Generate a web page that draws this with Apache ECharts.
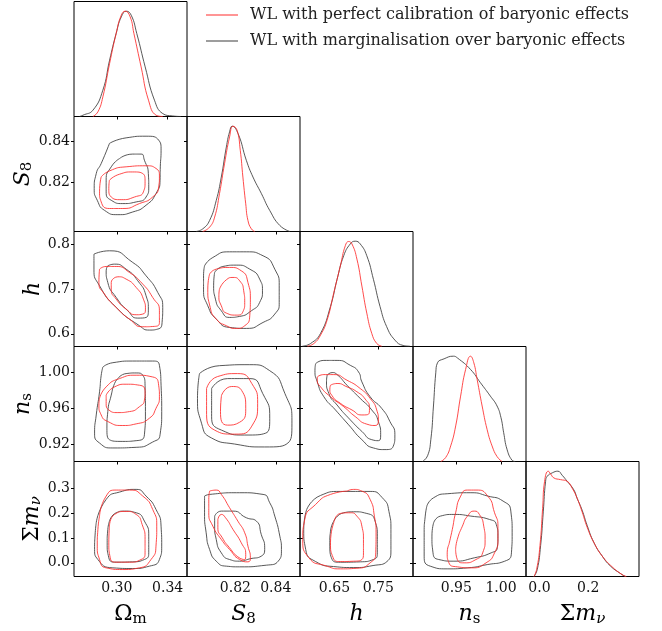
<!DOCTYPE html>
<html>
<head>
<meta charset="utf-8">
<script src="https://cdn.jsdelivr.net/npm/echarts@6/dist/echarts.min.js"></script>
<style>
  html, body { margin: 0; padding: 0; background: #fff; }
  #corner { width: 662px; height: 631px; }
</style>
</head>
<body>
<div id="corner"></div>
<script>
// parameter order: Omega_m, S8, h, n_s, sum m_nu
const paramNames = ['{up|Ω}{sub|m}', '{it|S}{sub|8}', '{it|h}', '{it|n}{sub|s}', '{up|Σ}{it|m}{subit|ν}'];
const axisMin = [0.2663, 0.796, 0.5715, 0.9015, -0.055];
const axisMax = [0.3552, 0.852, 0.829, 1.028, 0.408];
const xTicks = [[0.30, 0.34], [0.82, 0.84], [0.65, 0.75], [0.95, 1.00], [0.0, 0.2]];
const yTicks = [[], [0.82, 0.84], [0.6, 0.7, 0.8], [0.92, 0.96, 1.00], [0.0, 0.1, 0.2, 0.3]];
const xDecimals = [2, 2, 2, 2, 1];
const yDecimals = [2, 2, 1, 2, 1];

const redName = 'WL with perfect calibration of baryonic effects';
const blkName = 'WL with marginalisation over baryonic effects';

// 1D marginals (normalised to peak 1)
const omDensBlk = [[0.2707,0],[0.2733,0.012],[0.2812,0.06],[0.2890,0.25],[0.2943,0.535],[0.2995,0.79],[0.3035,0.946],[0.3074,1.0],[0.3113,0.962],[0.3157,0.788],[0.3223,0.471],[0.3296,0.155],[0.3361,0.028],[0.3439,0.005],[0.3505,0]];
const omDensRed = [[0.2812,0],[0.2851,0.044],[0.2890,0.186],[0.2943,0.503],[0.2995,0.79],[0.3035,0.962],[0.3066,1.0],[0.3105,0.946],[0.3134,0.79],[0.3191,0.471],[0.3249,0.155],[0.3309,0.012],[0.3361,0]];
const s8DensBlk = [[0.8005,0],[0.8038,0.025],[0.8072,0.105],[0.8105,0.295],[0.8130,0.517],[0.8155,0.803],[0.8171,0.946],[0.8184,1.0],[0.8213,0.930],[0.8254,0.676],[0.8287,0.517],[0.8329,0.359],[0.8370,0.2],[0.8420,0.057],[0.8470,0]];
const s8DensRed = [[0.8038,0],[0.8072,0.041],[0.8097,0.137],[0.8121,0.359],[0.8146,0.644],[0.8171,0.898],[0.8188,1.0],[0.8208,0.962],[0.8224,0.771],[0.8237,0.517],[0.8251,0.263],[0.8262,0.105],[0.8279,0.025],[0.8296,0]];
const hDensBlk = [[0.5770,0.003],[0.5958,0.029],[0.6184,0.125],[0.6410,0.381],[0.6560,0.638],[0.6711,0.862],[0.6861,0.974],[0.6974,1.0],[0.7087,0.974],[0.7237,0.862],[0.7388,0.638],[0.7538,0.381],[0.7689,0.189],[0.7877,0.061],[0.8065,0.01],[0.8216,0.003]];
const hDensRed = [[0.5883,0.003],[0.6033,0.029],[0.6184,0.109],[0.6334,0.253],[0.6485,0.510],[0.6635,0.766],[0.6748,0.958],[0.6824,0.997],[0.6899,0.974],[0.7012,0.830],[0.7125,0.574],[0.7237,0.317],[0.7350,0.125],[0.7463,0.029],[0.7576,0.003]];
const nsDensBlk = [[0.9122,0],[0.9178,0.054],[0.9215,0.211],[0.9244,0.527],[0.9270,0.842],[0.9289,0.937],[0.9363,0.975],[0.9467,1.0],[0.9511,0.984],[0.9659,0.874],[0.9770,0.748],[0.9881,0.621],[0.9956,0.527],[1.0,0.416],[1.0030,0.274],[1.0067,0.117],[1.0122,0.013],[1.0159,0]];
const nsDensRed = [[0.9326,0],[0.9381,0.038],[0.9437,0.148],[0.9493,0.338],[0.9548,0.621],[0.9604,0.874],[0.9659,1.0],[0.9696,0.937],[0.9733,0.779],[0.9789,0.527],[0.9844,0.306],[0.9900,0.148],[0.9956,0.047],[1.0011,0]];
const mnuDensBlk = [[-0.0223,0],[-0.0087,0.068],[0.0049,0.293],[0.0158,0.614],[0.0253,0.904],[0.0321,0.952],[0.0525,0.984],[0.0756,1.0],[0.0933,0.961],[0.1137,0.904],[0.1409,0.823],[0.1545,0.743],[0.1749,0.630],[0.1954,0.486],[0.2226,0.325],[0.2566,0.196],[0.2906,0.100],[0.3314,0.029],[0.3518,0]];
const mnuDensRed = [[-0.0223,0],[-0.0114,0.068],[0.0022,0.293],[0.0131,0.646],[0.0212,0.904],[0.0362,1.0],[0.0457,0.974],[0.0593,0.936],[0.0865,0.920],[0.1137,0.904],[0.1341,0.839],[0.1545,0.743],[0.1749,0.614],[0.1954,0.469],[0.2226,0.325],[0.2566,0.196],[0.2974,0.093],[0.3382,0.019],[0.3559,0]];

// 2D contours: 1 = inner (68%), 2 = outer (95%)
const omS8Blk2 = [[0.2942,0.8389],[0.3073,0.8416],[0.3230,0.8424],[0.3329,0.8405],[0.3348,0.8356],[0.3342,0.8275],[0.3340,0.8210],[0.3308,0.8145],[0.3230,0.8088],[0.3125,0.8055],[0.3008,0.8042],[0.2903,0.8063],[0.2846,0.8112],[0.2822,0.8169],[0.2838,0.8242],[0.2877,0.8291]];
const omS8Blk1 = [[0.3021,0.8315],[0.3125,0.8337],[0.3191,0.8337],[0.3217,0.8307],[0.3248,0.8242],[0.3251,0.8177],[0.3230,0.8128],[0.3152,0.8104],[0.3047,0.8096],[0.2956,0.8112],[0.2916,0.8153],[0.2916,0.8210],[0.2956,0.8275]];
const omS8Red2 = [[0.2877,0.8226],[0.2942,0.8255],[0.3073,0.8275],[0.3230,0.8280],[0.3308,0.8267],[0.3335,0.8226],[0.3329,0.8177],[0.3282,0.8128],[0.3178,0.8096],[0.3047,0.8072],[0.2942,0.8072],[0.2877,0.8104],[0.2864,0.8153]];
const omS8Red1 = [[0.2942,0.8210],[0.3021,0.8239],[0.3125,0.8250],[0.3204,0.8242],[0.3222,0.8202],[0.3209,0.8153],[0.3139,0.8128],[0.3034,0.8115],[0.2956,0.8128],[0.2937,0.8169]];

const omHBlk2 = [[0.2820,0.7783],[0.2942,0.7858],[0.3125,0.7597],[0.3230,0.7298],[0.3322,0.6925],[0.3361,0.6590],[0.3356,0.6254],[0.3322,0.6105],[0.3256,0.6083],[0.3178,0.6180],[0.2995,0.6590],[0.2864,0.7075],[0.2820,0.7447]];
const omHBlk1 = [[0.2929,0.7522],[0.2982,0.7559],[0.3073,0.7447],[0.3165,0.7186],[0.3230,0.6851],[0.3248,0.6553],[0.3230,0.6366],[0.3165,0.6351],[0.3086,0.6515],[0.2995,0.6814],[0.2929,0.7149],[0.2916,0.7410]];
const omHRed2 = [[0.2864,0.7447],[0.2916,0.7507],[0.2995,0.7507],[0.3099,0.7373],[0.3204,0.7112],[0.3282,0.6814],[0.3335,0.6515],[0.3335,0.6254],[0.3295,0.6165],[0.3204,0.6157],[0.3099,0.6329],[0.2995,0.6590],[0.2903,0.6888],[0.2859,0.7149]];
const omHRed1 = [[0.2969,0.7224],[0.3008,0.7276],[0.3073,0.7224],[0.3152,0.7037],[0.3209,0.6776],[0.3225,0.6553],[0.3204,0.6441],[0.3152,0.6426],[0.3073,0.6553],[0.2995,0.6776],[0.2956,0.7000],[0.2956,0.7149]];

const omNsBlk2 = [[0.2890,1.0054],[0.2969,1.0102],[0.3125,1.0120],[0.3282,1.0120],[0.3335,1.0073],[0.3348,0.9854],[0.3353,0.9564],[0.3340,0.9309],[0.3282,0.9229],[0.3152,0.9171],[0.2969,0.9164],[0.2864,0.9218],[0.2825,0.9327],[0.2838,0.9527],[0.2864,0.9782],[0.2877,0.9964]];
const omNsBlk1 = [[0.3008,0.9927],[0.3073,0.9982],[0.3152,0.9989],[0.3204,0.9964],[0.3222,0.9854],[0.3225,0.9564],[0.3217,0.9309],[0.3152,0.9244],[0.3047,0.9236],[0.2942,0.9255],[0.2922,0.9382],[0.2929,0.9564],[0.2956,0.9745],[0.2982,0.9873]];
const omNsRed2 = [[0.2864,0.9709],[0.2916,0.9836],[0.3021,0.9927],[0.3152,0.9964],[0.3282,0.9945],[0.3329,0.9854],[0.3335,0.9727],[0.3308,0.9600],[0.3256,0.9491],[0.3152,0.9429],[0.3047,0.9411],[0.2929,0.9455],[0.2877,0.9527],[0.2859,0.9636]];
const omNsRed1 = [[0.2916,0.9745],[0.2982,0.9836],[0.3073,0.9865],[0.3178,0.9854],[0.3222,0.9782],[0.3217,0.9691],[0.3178,0.9618],[0.3099,0.9564],[0.3008,0.9553],[0.2937,0.9582],[0.2916,0.9655]];

const omMnuBlk2 = [[0.2838,0.1613],[0.2916,0.2554],[0.3021,0.2849],[0.3152,0.2957],[0.3230,0.2688],[0.3308,0.2151],[0.3348,0.1478],[0.3353,0.0672],[0.3335,0.0134],[0.3256,-0.0134],[0.3125,-0.0228],[0.2969,-0.0202],[0.2851,0.0134],[0.2825,0.0538],[0.2830,0.1210]];
const omMnuBlk1 = [[0.2942,0.1680],[0.2995,0.2016],[0.3060,0.2083],[0.3152,0.2016],[0.3217,0.1680],[0.3251,0.1075],[0.3251,0.0403],[0.3217,0.0134],[0.3125,0.0040],[0.2995,0.0027],[0.2937,0.0202],[0.2924,0.0806],[0.2929,0.1344]];
const omMnuRed2 = [[0.2864,0.1882],[0.2916,0.2688],[0.2995,0.2930],[0.3099,0.2930],[0.3204,0.2688],[0.3282,0.2151],[0.3314,0.1478],[0.3308,0.0672],[0.3269,0.0134],[0.3178,-0.0202],[0.3047,-0.0269],[0.2916,-0.0202],[0.2864,0.0134],[0.2846,0.0672],[0.2851,0.1344]];
const omMnuRed1 = [[0.2942,0.1478],[0.2982,0.1949],[0.3073,0.2070],[0.3152,0.1949],[0.3199,0.1546],[0.3222,0.0941],[0.3222,0.0403],[0.3191,0.0134],[0.3099,0.0027],[0.2995,0.0027],[0.2948,0.0202],[0.2937,0.0806]];

const s8HBlk2 = [[0.8047,0.7522],[0.8088,0.7708],[0.8171,0.7835],[0.8254,0.7835],[0.8337,0.7746],[0.8395,0.7447],[0.8417,0.7075],[0.8417,0.6702],[0.8395,0.6441],[0.8337,0.6254],[0.8254,0.6120],[0.8171,0.6142],[0.8105,0.6329],[0.8063,0.6627],[0.8042,0.7000],[0.8042,0.7298]];
const s8HBlk1 = [[0.8097,0.7373],[0.8138,0.7507],[0.8204,0.7537],[0.8271,0.7447],[0.8320,0.7224],[0.8334,0.6963],[0.8320,0.6702],[0.8279,0.6515],[0.8221,0.6389],[0.8171,0.6366],[0.8130,0.6515],[0.8101,0.6776],[0.8092,0.7075]];
const s8HRed2 = [[0.8072,0.7336],[0.8105,0.7447],[0.8171,0.7485],[0.8229,0.7410],[0.8262,0.7149],[0.8274,0.6776],[0.8271,0.6403],[0.8246,0.6180],[0.8204,0.6120],[0.8155,0.6180],[0.8105,0.6329],[0.8075,0.6590],[0.8063,0.7000]];
const s8HRed1 = [[0.8121,0.7000],[0.8155,0.7209],[0.8188,0.7261],[0.8221,0.7186],[0.8241,0.6963],[0.8246,0.6702],[0.8237,0.6493],[0.8204,0.6418],[0.8155,0.6463],[0.8130,0.6627],[0.8118,0.6851]];

const s8NsBlk2 = [[0.8022,0.9982],[0.8121,1.0069],[0.8271,1.0080],[0.8370,1.0014],[0.8445,0.9764],[0.8480,0.9436],[0.8460,0.9218],[0.8345,0.9175],[0.8196,0.9207],[0.8082,0.9273],[0.8032,0.9436],[0.8012,0.9709]];
const s8NsBlk1 = [[0.8082,0.9818],[0.8161,0.9927],[0.8271,0.9927],[0.8335,0.9764],[0.8370,0.9491],[0.8350,0.9327],[0.8246,0.9306],[0.8131,0.9360],[0.8082,0.9513]];
const s8NsRed2 = [[0.8057,0.9818],[0.8111,0.9949],[0.8211,0.9982],[0.8281,0.9873],[0.8310,0.9655],[0.8281,0.9404],[0.8196,0.9316],[0.8097,0.9360],[0.8057,0.9578]];
const s8NsRed1 = [[0.8131,0.9742],[0.8181,0.9840],[0.8231,0.9796],[0.8251,0.9600],[0.8221,0.9447],[0.8161,0.9415],[0.8126,0.9567]];

const s8MnuBlk2 = [[0.8047,0.2688],[0.8072,0.2755],[0.8221,0.2823],[0.8337,0.2755],[0.8370,0.2419],[0.8395,0.1882],[0.8420,0.1075],[0.8428,0.0538],[0.8412,0.0067],[0.8353,-0.0094],[0.8221,-0.0161],[0.8155,-0.0134],[0.8105,0.0067],[0.8072,0.0538],[0.8055,0.1210],[0.8047,0.2016]];
const s8MnuBlk1 = [[0.8097,0.1882],[0.8130,0.2083],[0.8188,0.2083],[0.8254,0.1815],[0.8304,0.1680],[0.8328,0.1142],[0.8345,0.0605],[0.8328,0.0269],[0.8271,0.0161],[0.8221,0.0067],[0.8171,0.0134],[0.8130,0.0403],[0.8105,0.0941],[0.8097,0.1478]];
const s8MnuRed2 = [[0.8072,0.2890],[0.8105,0.2930],[0.8130,0.2755],[0.8171,0.2218],[0.8212,0.1680],[0.8246,0.1210],[0.8262,0.0672],[0.8274,0.0202],[0.8262,0.0040],[0.8221,0.0134],[0.8171,0.0538],[0.8130,0.0941],[0.8088,0.1478],[0.8068,0.2016],[0.8068,0.2554]];
const s8MnuRed1 = [[0.8113,0.1747],[0.8130,0.1949],[0.8151,0.1815],[0.8188,0.1344],[0.8229,0.0806],[0.8251,0.0336],[0.8246,0.0134],[0.8212,0.0242],[0.8171,0.0605],[0.8135,0.1008],[0.8113,0.1411]];

const hNsBlk2 = [[0.6071,1.0091],[0.6259,1.0127],[0.6560,1.0127],[0.6861,1.0073],[0.7049,1.0000],[0.7125,0.9891],[0.7313,0.9727],[0.7576,0.9600],[0.7764,0.9455],[0.7877,0.9309],[0.7839,0.9182],[0.7651,0.9146],[0.7388,0.9164],[0.7125,0.9255],[0.6824,0.9418],[0.6523,0.9582],[0.6259,0.9727],[0.6109,0.9891],[0.6056,1.0018]];
const hNsBlk1 = [[0.6334,0.9964],[0.6447,0.9993],[0.6560,0.9971],[0.6786,0.9854],[0.7087,0.9709],[0.7350,0.9582],[0.7501,0.9455],[0.7553,0.9309],[0.7501,0.9244],[0.7350,0.9255],[0.7125,0.9346],[0.6861,0.9473],[0.6560,0.9636],[0.6372,0.9764],[0.6319,0.9891]];
const hNsRed2 = [[0.6109,0.9945],[0.6259,0.9971],[0.6485,0.9971],[0.6786,0.9909],[0.7087,0.9818],[0.7313,0.9709],[0.7463,0.9582],[0.7501,0.9473],[0.7426,0.9411],[0.7237,0.9426],[0.6974,0.9509],[0.6711,0.9618],[0.6410,0.9727],[0.6184,0.9836],[0.6109,0.9909]];
const hNsRed1 = [[0.6410,0.9854],[0.6560,0.9873],[0.6786,0.9836],[0.7012,0.9782],[0.7200,0.9702],[0.7298,0.9600],[0.7275,0.9535],[0.7125,0.9527],[0.6899,0.9582],[0.6635,0.9655],[0.6447,0.9738],[0.6395,0.9811]];

const hMnuBlk2 = [[0.5868,0.2149],[0.6184,0.2714],[0.6635,0.2875],[0.7313,0.2875],[0.7584,0.2633],[0.7742,0.2069],[0.7787,0.1343],[0.7787,0.0536],[0.7696,0.0052],[0.7380,-0.0109],[0.6929,-0.0190],[0.6477,-0.0149],[0.6071,0.0052],[0.5845,0.0536],[0.5800,0.1343]];
const hMnuBlk1 = [[0.6484,0.1677],[0.6710,0.2016],[0.6936,0.2056],[0.7238,0.1988],[0.7426,0.1677],[0.7477,0.1073],[0.7477,0.0403],[0.7387,0.0133],[0.7087,0.0040],[0.6635,0.0024],[0.6448,0.0133],[0.6394,0.0806],[0.6410,0.1274]];
const hMnuRed2 = [[0.6787,0.2887],[0.6936,0.2956],[0.7125,0.2887],[0.7313,0.2552],[0.7410,0.1879],[0.7448,0.1210],[0.7441,0.0403],[0.7313,0.0000],[0.7012,-0.0218],[0.6635,-0.0242],[0.6335,-0.0137],[0.5913,0.0214],[0.5778,0.0940],[0.5823,0.1746],[0.6071,0.2351],[0.6410,0.2754]];
const hMnuRed1 = [[0.6484,0.1613],[0.6635,0.1988],[0.6861,0.2016],[0.7012,0.1879],[0.7125,0.1476],[0.7161,0.0940],[0.7161,0.0403],[0.7125,0.0133],[0.6936,0.0065],[0.6635,0.0052],[0.6471,0.0202],[0.6410,0.0806]];

const nsMnuBlk2 = [[0.9170,0.2285],[0.9246,0.2621],[0.9398,0.2782],[0.9663,0.2823],[0.9852,0.2688],[1.0023,0.2487],[1.0110,0.2083],[1.0125,0.1210],[1.0117,0.0403],[1.0042,0.0067],[0.9852,-0.0067],[0.9625,-0.0202],[0.9398,-0.0242],[0.9208,-0.0134],[0.9140,0.0269],[0.9140,0.1210],[0.9152,0.1882]];
const nsMnuBlk1 = [[0.9246,0.1613],[0.9322,0.1882],[0.9473,0.1949],[0.9663,0.1882],[0.9871,0.1747],[0.9947,0.1546],[0.9966,0.1075],[0.9958,0.0605],[0.9890,0.0403],[0.9701,0.0202],[0.9473,0.0067],[0.9303,0.0134],[0.9239,0.0403],[0.9227,0.1075]];
const nsMnuRed2 = [[0.9417,0.0739],[0.9455,0.1344],[0.9492,0.2016],[0.9549,0.2688],[0.9625,0.2930],[0.9720,0.2930],[0.9852,0.2688],[0.9928,0.2016],[0.9966,0.1478],[0.9966,0.0941],[0.9928,0.0403],[0.9833,0.0000],[0.9663,-0.0202],[0.9511,-0.0161],[0.9417,0.0000],[0.9398,0.0403]];
const nsMnuRed1 = [[0.9492,0.0538],[0.9511,0.0941],[0.9568,0.1478],[0.9625,0.1882],[0.9701,0.2083],[0.9758,0.1949],[0.9807,0.1478],[0.9822,0.0941],[0.9795,0.0403],[0.9720,0.0134],[0.9587,0.0000],[0.9511,0.0134]];

const diagDensities = [
  [omDensRed, omDensBlk], [s8DensRed, s8DensBlk], [hDensRed, hDensBlk],
  [nsDensRed, nsDensBlk], [mnuDensRed, mnuDensBlk]
];
const pairContours = {
  '1_0': [[omS8Red1, omS8Red2], [omS8Blk1, omS8Blk2]],
  '2_0': [[omHRed1, omHRed2], [omHBlk1, omHBlk2]],
  '3_0': [[omNsRed1, omNsRed2], [omNsBlk1, omNsBlk2]],
  '4_0': [[omMnuRed1, omMnuRed2], [omMnuBlk1, omMnuBlk2]],
  '2_1': [[s8HRed1, s8HRed2], [s8HBlk1, s8HBlk2]],
  '3_1': [[s8NsRed1, s8NsRed2], [s8NsBlk1, s8NsBlk2]],
  '4_1': [[s8MnuRed1, s8MnuRed2], [s8MnuBlk1, s8MnuBlk2]],
  '3_2': [[hNsRed1, hNsRed2], [hNsBlk1, hNsBlk2]],
  '4_2': [[hMnuRed1, hMnuRed2], [hMnuBlk1, hMnuBlk2]],
  '4_3': [[nsMnuRed1, nsMnuRed2], [nsMnuBlk1, nsMnuBlk2]]
};

const serif = 'DejaVu Serif';
const nameRich = {
  up: { fontFamily: serif, fontSize: 22, lineHeight: 24, color: '#000' },
  it: { fontFamily: serif, fontSize: 22, lineHeight: 24, fontStyle: 'italic', color: '#000' },
  sub: { fontFamily: serif, fontSize: 15, lineHeight: 8, verticalAlign: 'bottom', color: '#000' },
  subit: { fontFamily: serif, fontSize: 15, lineHeight: 8, verticalAlign: 'bottom', fontStyle: 'italic', color: '#000' }
};
const yNameGap = [0, 30, 26, 30, 25];

const redColor = '#ff2b2b';
const blkColor = '#3a3a3a';
const lineW = 0.85;

const grids = [], xAxes = [], yAxes = [], series = [];
const cellLeft = 74, cellTop = 1.5, cellW = 113, cellH = 115;

for (let r = 0; r < 5; r++) {
  for (let c = 0; c <= r; c++) {
    const g = grids.length;
    const diag = r === c;
    grids.push({
      left: cellLeft + c * cellW, top: cellTop + r * cellH, width: cellW, height: cellH,
      show: true, borderColor: '#000', borderWidth: 1, backgroundColor: 'transparent',
      containLabel: false, outerBoundsMode: 'none'
    });
    const xi = xAxes.length;
    xAxes.push({
      type: 'value', gridIndex: g, min: axisMin[c], max: axisMax[c],
      axisLine: { show: false }, splitLine: { show: false },
      axisTick: { show: r < 4, inside: false, length: 3, customValues: xTicks[c], lineStyle: { color: '#000', width: 1 } },
      axisLabel: {
        show: r === 4, customValues: xTicks[c], margin: 5,
        formatter: v => v.toFixed(xDecimals[c]),
        fontFamily: serif, fontSize: 14, color: '#111'
      },
      name: r === 4 ? paramNames[c] : '', nameLocation: 'middle', nameGap: 26,
      nameTextStyle: { rich: nameRich }
    });
    const yi = yAxes.length;
    if (diag) {
      yAxes.push({
        type: 'value', gridIndex: g, min: 0, max: 1.092,
        axisLine: { show: false }, splitLine: { show: false },
        axisTick: { show: false }, axisLabel: { show: false }
      });
    } else {
      yAxes.push({
        type: 'value', gridIndex: g, min: axisMin[r], max: axisMax[r], position: 'left',
        axisLine: { show: false }, splitLine: { show: false },
        axisTick: { show: true, inside: c > 0, length: 3, customValues: yTicks[r], lineStyle: { color: '#000', width: 1 } },
        axisLabel: {
          show: c === 0, customValues: yTicks[r], margin: 4,
          formatter: v => v.toFixed(yDecimals[r]),
          fontFamily: serif, fontSize: 14, color: '#111'
        },
        name: c === 0 ? paramNames[r] : '', nameLocation: 'middle', nameGap: yNameGap[r],
        nameRotate: 90, nameTextStyle: { rich: nameRich }
      });
      // inward ticks on the right edge
      yAxes.push({
        type: 'value', gridIndex: g, min: axisMin[r], max: axisMax[r], position: 'right',
        axisLine: { show: false }, splitLine: { show: false },
        axisTick: { show: true, inside: true, length: 3, customValues: yTicks[r], lineStyle: { color: '#000', width: 1 } },
        axisLabel: { show: false }
      });
    }

    const lineBase = {
      type: 'line', xAxisIndex: xi, yAxisIndex: yi, symbol: 'none',
      silent: true, animation: false, clip: true
    };
    if (diag) {
      const [red, blk] = diagDensities[r];
      series.push(Object.assign({}, lineBase, { name: blkName, data: blk, smooth: 0.5, lineStyle: { color: blkColor, width: lineW }, itemStyle: { color: blkColor } }));
      series.push(Object.assign({}, lineBase, { name: redName, data: red, smooth: 0.5, lineStyle: { color: redColor, width: lineW }, itemStyle: { color: redColor } }));
    } else {
      const [reds, blks] = pairContours[r + '_' + c];
      blks.forEach(ring => {
        series.push(Object.assign({}, lineBase, { name: blkName, data: ring.concat([ring[0]]), smooth: 0.6, lineStyle: { color: blkColor, width: lineW }, itemStyle: { color: blkColor } }));
      });
      reds.forEach(ring => {
        series.push(Object.assign({}, lineBase, { name: redName, data: ring.concat([ring[0]]), smooth: 0.6, lineStyle: { color: redColor, width: lineW }, itemStyle: { color: redColor } }));
      });
    }
  }
}

const chart = echarts.init(document.getElementById('corner'), null, { renderer: 'canvas' });
chart.setOption({
  backgroundColor: '#fff',
  animation: false,
  grid: grids,
  xAxis: xAxes,
  yAxis: yAxes,
  legend: {
    data: [redName, blkName],
    orient: 'vertical', left: 206, top: 7, padding: 0,
    icon: 'rect', itemWidth: 32, itemHeight: 1, itemGap: 10,
    selectedMode: false,
    textStyle: { fontFamily: serif, fontSize: 16, color: '#222', padding: [0, 0, 0, 7] }
  },
  series: series
});
</script>
</body>
</html>
